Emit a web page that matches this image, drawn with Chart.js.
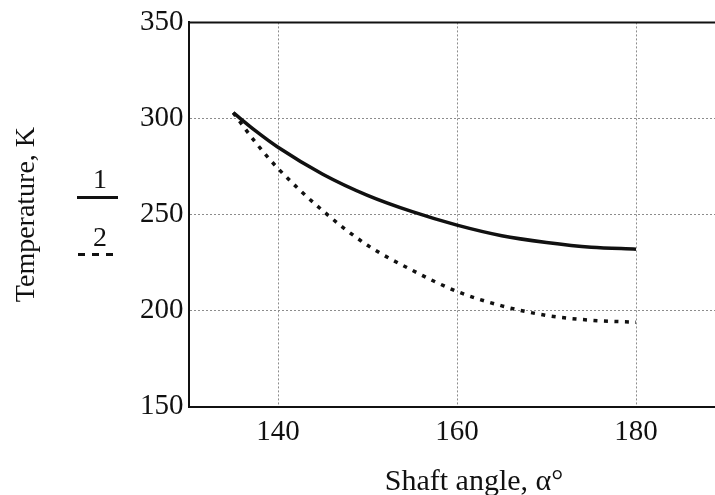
<!DOCTYPE html>
<html>
<head>
<meta charset="utf-8">
<script src="https://cdn.jsdelivr.net/npm/chart.js@4/dist/chart.umd.min.js"></script>
<style>
  html, body { margin: 0; padding: 0; background: #fff; overflow: hidden; }
  #wrap { position: relative; width: 715px; height: 495px; overflow: hidden; }
  canvas { position: absolute; left: 0; top: 0; }
  .txt { position: absolute; font-family: 'Liberation Serif', 'Times New Roman', serif; font-size: 28px; line-height: 28px; color: #111; white-space: nowrap; }
  .key { position: absolute; }
</style>
</head>
<body>
<div id="wrap">
  <canvas id="myChart" width="730" height="495"></canvas>
  <div class="txt" style="left:80px; width:40px; text-align:center; top:165px;">1</div>
  <div class="key" style="left:77px; top:196px; width:41px; height:3px; background:#111;"></div>
  <div class="txt" style="left:80px; width:40px; text-align:center; top:223px;">2</div>
  <div class="key" style="left:78px; top:253px; width:35px; height:3px; background:repeating-linear-gradient(90deg, #111 0 7px, transparent 7px 14px);"></div>
  <div class="txt" style="left:364px; width:220px; text-align:center; top:465px; font-size:30px; line-height:30px;">Shaft angle, α°</div>
</div>
<script>
// shaft angle, degrees
const angles = [135, 137.5, 140, 145, 150, 155, 160, 165, 170, 175, 180];
// curve 1 (solid) and curve 2 (dotted), temperature in K
const temp1 = [303, 293.5, 285, 271, 260, 251.5, 244.5, 239, 235.5, 233, 232];
const temp2 = [303, 287.5, 274, 252, 234, 221, 210, 202.5, 197.5, 195, 194];
const xTicks = [140, 160, 180];
const yTicks = [150, 200, 250, 300, 350];

const serif = "'Liberation Serif', 'Times New Roman', serif";

// black frame line along the top of the plot
const topLine = {
  id: 'topLine',
  afterDraw(chart) {
    const {ctx, chartArea} = chart;
    ctx.save();
    ctx.strokeStyle = '#111';
    ctx.lineWidth = 2;
    ctx.beginPath();
    ctx.moveTo(chartArea.left, chartArea.top);
    ctx.lineTo(chartArea.right, chartArea.top);
    ctx.stroke();
    ctx.restore();
  }
};

let ctx = document.getElementById('myChart');
let myChart = new Chart(ctx, {
  type: 'line',
  data: {
    datasets: [{
        data: angles.map((a, i) => ({x: a, y: temp1[i]})),
        label: "1",
        borderColor: "#111",
        borderWidth: 3.5,
        pointRadius: 0,
        fill: false
      }, {
        data: angles.map((a, i) => ({x: a, y: temp2[i]})),
        label: "2",
        borderColor: "#111",
        borderWidth: 3.5,
        borderDash: [4, 6.5],
        pointRadius: 0,
        fill: false
      }
    ]
  },
  options: {
    responsive: false,
    animation: false,
    devicePixelRatio: 1,
    layout: { padding: { top: 19.5, right: 4.5, bottom: 0, left: 0 } },
    plugins: { legend: { display: false }, tooltip: { enabled: false } },
    elements: { line: { cubicInterpolationMode: 'monotone' } },
    scales: {
      x: {
        type: 'linear',
        min: 130,
        max: 190,
        afterBuildTicks: s => { s.ticks = xTicks.map(v => ({value: v})) },
        afterFit: s => { s.height = 88.3 },
        grid: { color: '#8c8c8c', lineWidth: 1, drawTicks: false },
        border: { color: '#111', width: 2, dash: [2, 2] },
        ticks: { color: '#111', padding: 8, font: { family: serif, size: 29 } }
      },
      y: {
        min: 150,
        max: 350,
        afterBuildTicks: s => { s.ticks = yTicks.map(v => ({value: v})) },
        afterFit: s => { s.width = 188.5 },
        grid: { color: '#8c8c8c', lineWidth: 1, drawTicks: false },
        border: { color: '#111', width: 2, dash: [2, 2] },
        ticks: { color: '#111', padding: 5, font: { family: serif, size: 29 } },
        title: {
          display: true,
          text: 'Temperature, K',
          color: '#111',
          padding: { top: 10, bottom: 0 },
          font: { family: serif, size: 28 }
        }
      }
    }
  },
  plugins: [topLine]
});
</script>
</body>
</html>
